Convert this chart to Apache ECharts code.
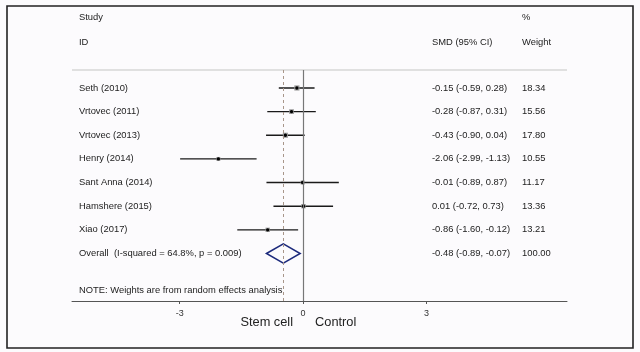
<!DOCTYPE html>
<html>
<head>
<meta charset="utf-8">
<script src="https://cdn.jsdelivr.net/npm/echarts@6/dist/echarts.min.js"></script>
<style>
  html, body { margin: 0; padding: 0; background: #fcfbfd; }
  #chart { width: 640px; height: 352px; }
</style>
</head>
<body>
<div id="chart"></div>
<script>
const studies = ['Seth (2010)', 'Vrtovec (2011)', 'Vrtovec (2013)', 'Henry (2014)', 'Sant Anna (2014)', 'Hamshere (2015)', 'Xiao (2017)'];
const smd = [-0.15, -0.28, -0.43, -2.06, -0.01, 0.01, -0.86];
const lower = [-0.59, -0.87, -0.90, -2.99, -0.89, -0.72, -1.60];
const upper = [0.28, 0.31, 0.04, -1.13, 0.87, 0.73, -0.12];
const weights = ['18.34', '15.56', '17.80', '10.55', '11.17', '13.36', '13.21'];
const overallLabel = 'Overall  (I-squared = 64.8%, p = 0.009)';
const overall = [-0.48, -0.89, -0.07];
const overallWeight = '100.00';
const xTicks = [-3, 0, 3];

const FONT = "'Liberation Sans', Arial, sans-serif";
const TEXT_COLOR = '#222';

const fmt = (v) => v.toFixed(2);
const ciText = (e, l, u) => `${fmt(e)} (${fmt(l)}, ${fmt(u)})`;

const chart = echarts.init(document.getElementById('chart'));

const studyData = studies.map((s, i) => [smd[i], lower[i], upper[i], i + 1, parseFloat(weights[i])]);
const overallRow = studies.length + 1;

chart.setOption({
  animation: false,
  backgroundColor: '#fcfbfd',
  grid: { left: 72, right: 73, top: 70, bottom: 51 },
  xAxis: {
    type: 'value',
    min: -5.62,
    max: 6.42,
    splitLine: { show: false },
    axisLine: { lineStyle: { color: '#555', width: 1 } },
    axisTick: { customValues: xTicks, length: 3, lineStyle: { color: '#555' } },
    axisLabel: { customValues: xTicks, fontSize: 9, color: '#333', margin: 8, fontFamily: FONT },
  },
  yAxis: {
    type: 'value',
    inverse: true,
    min: 0.24,
    max: 10.01,
    show: false,
  },
  series: [
    {
      type: 'scatter',
      data: [],
      markLine: {
        silent: true,
        symbol: ['none', 'none'],
        label: { show: false },
        data: [
          { xAxis: 0, lineStyle: { color: '#777', width: 1.2, type: 'solid' } },
          { xAxis: overall[0], lineStyle: { color: '#a8968a', width: 1, type: [3, 3] } },
        ],
      },
    },
    {
      type: 'custom',
      data: studyData,
      renderItem: (params, api) => {
        const lo = api.coord([api.value(1), api.value(3)]);
        const hi = api.coord([api.value(2), api.value(3)]);
        const c = api.coord([api.value(0), api.value(3)]);
        const side = 1.2 * Math.sqrt(api.value(4));
        return {
          type: 'group',
          children: [
            { type: 'line', shape: { x1: lo[0], y1: lo[1], x2: hi[0], y2: hi[1] }, style: { stroke: '#1a1a1a', lineWidth: 1.4 } },
            { type: 'rect', shape: { x: c[0] - side / 2, y: c[1] - side / 2, width: side, height: side }, style: { fill: '#999' } },
            { type: 'circle', shape: { cx: c[0], cy: c[1], r: 1.7 }, style: { fill: '#000' } },
          ],
        };
      },
    },
    {
      type: 'custom',
      data: [[overall[0], overall[1], overall[2], overallRow]],
      renderItem: (params, api) => {
        const c = api.coord([api.value(0), api.value(3)]);
        const lo = api.coord([api.value(1), api.value(3)]);
        const hi = api.coord([api.value(2), api.value(3)]);
        const h = 9.7;
        return {
          type: 'polygon',
          shape: { points: [[lo[0], lo[1]], [c[0], c[1] - h], [hi[0], hi[1]], [c[0], c[1] + h]] },
          style: { fill: 'none', stroke: '#1c2a7c', lineWidth: 1.5 },
        };
      },
    },
  ],
});

// table text and frame, placed with the chart's own y scale
const rowY = (r) => chart.convertToPixel({ yAxisIndex: 0 }, r);
const x0 = chart.convertToPixel({ xAxisIndex: 0 }, 0);
const NAME_X = 79;
const CI_X = 432;
const W_X = 522;

const txt = (text, x, y, size, align) => ({
  type: 'text',
  x, y,
  style: { text, fill: TEXT_COLOR, font: `${size || 9.4}px ${FONT}`, textAlign: align || 'left', textVerticalAlign: 'middle' },
});

const graphics = [
  { type: 'rect', shape: { x: 7, y: 6, width: 626, height: 342 }, style: { fill: 'none', stroke: '#222', lineWidth: 1.6 } },
  { type: 'line', shape: { x1: 72, y1: 70, x2: 567, y2: 70 }, style: { stroke: '#e0e0e0', lineWidth: 2 } },
  txt('Study', NAME_X, 17),
  txt('ID', NAME_X, 42),
  txt('SMD (95% CI)', CI_X, 42),
  txt('%', W_X, 17),
  txt('Weight', W_X, 42),
];
studies.forEach((s, i) => {
  const y = rowY(i + 1);
  graphics.push(txt(s, NAME_X, y));
  graphics.push(txt(ciText(smd[i], lower[i], upper[i]), CI_X, y));
  graphics.push(txt(weights[i], W_X, y));
});
const oy = rowY(overallRow);
graphics.push(txt(overallLabel, NAME_X, oy));
graphics.push(txt(ciText(overall[0], overall[1], overall[2]), CI_X, oy));
graphics.push(txt(overallWeight, W_X, oy));
graphics.push(txt('NOTE: Weights are from random effects analysis', NAME_X, rowY(9.55)));
graphics.push(txt('Stem cell', x0 - 10, 322, 12.8, 'right'));
graphics.push(txt('Control', x0 + 12, 322, 12.8, 'left'));

chart.setOption({ graphic: graphics });
</script>
</body>
</html>
